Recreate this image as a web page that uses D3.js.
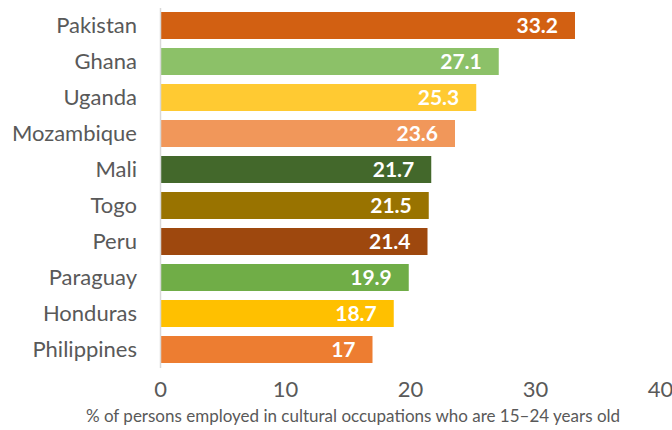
<!DOCTYPE html>
<html>
<head>
<meta charset="utf-8">
<script src="https://cdn.jsdelivr.net/npm/d3@7"></script>
<style>
  body { margin: 0; background: #fff; }
  svg { display: block; font-family: Lato, "Open Sans", sans-serif; }
</style>
</head>
<body>
<div id="chart"></div>
<script>
// data
const countries = ["Pakistan", "Ghana", "Uganda", "Mozambique", "Mali", "Togo", "Peru", "Paraguay", "Honduras", "Philippines"];
const shares = [33.2, 27.1, 25.3, 23.6, 21.7, 21.5, 21.4, 19.9, 18.7, 17];
const barColors = ["#D26012", "#8CC168", "#FFCA32", "#F1975A", "#43682B", "#997300", "#9E480E", "#70AD47", "#FFC000", "#ED7D31"];
const xTicks = [0, 10, 20, 30, 40];
const xTitle = "% of persons employed in cultural occupations who are 15\u201324 years old";

const width = 672, height = 430;
const margin = { top: 7.5, right: 12, bottom: 62.5, left: 160 };

const svg = d3.select("#chart").append("svg")
    .attr("width", width)
    .attr("height", height);

const x = d3.scaleLinear()
    .domain([0, 40])
    .range([margin.left, 660]);

const y = d3.scaleBand()
    .domain(countries)
    .range([margin.top, height - margin.bottom])
    .paddingInner(0.25)
    .paddingOuter(0.125);

const rows = countries.map((c, i) => ({ name: c, value: shares[i], color: barColors[i] }));

// bars
svg.append("g").selectAll("rect")
    .data(rows)
    .join("rect")
    .attr("x", x(0))
    .attr("y", d => y(d.name))
    .attr("width", d => x(d.value) - x(0))
    .attr("height", y.bandwidth())
    .attr("fill", d => d.color);

// value labels, inside end
svg.append("g").selectAll("text")
    .data(rows)
    .join("text")
    .attr("x", d => x(d.value) - 17)
    .attr("y", d => y(d.name) + y.bandwidth() / 2)
    .attr("dy", "0.36em")
    .attr("text-anchor", "end")
    .attr("fill", "#fff")
    .attr("font-weight", "bold")
    .attr("font-size", 21)
    .text(d => d.value);

// category axis
const yAxis = svg.append("g")
    .attr("transform", `translate(${x(0)},0)`)
    .call(d3.axisLeft(y).tickSize(0).tickPadding(23));
yAxis.select(".domain").attr("stroke", "#d9d9d9").attr("stroke-width", 1.5);
yAxis.selectAll("text")
    .attr("font-size", 22)
    .attr("font-family", "Lato, sans-serif")
    .attr("fill", "#595959");

// value axis, labels only
const xAxis = svg.append("g")
    .attr("transform", `translate(0,${height - margin.bottom})`)
    .call(d3.axisBottom(x).tickValues(xTicks).tickSize(0).tickPadding(14));
xAxis.select(".domain").remove();
xAxis.selectAll("text")
    .attr("font-size", 22)
    .attr("font-family", "Lato, sans-serif")
    .attr("fill", "#595959");

svg.append("text")
    .attr("x", 353)
    .attr("y", 422)
    .attr("text-anchor", "middle")
    .attr("font-size", 17)
    .attr("fill", "#595959")
    .text(xTitle);
</script>
</body>
</html>
